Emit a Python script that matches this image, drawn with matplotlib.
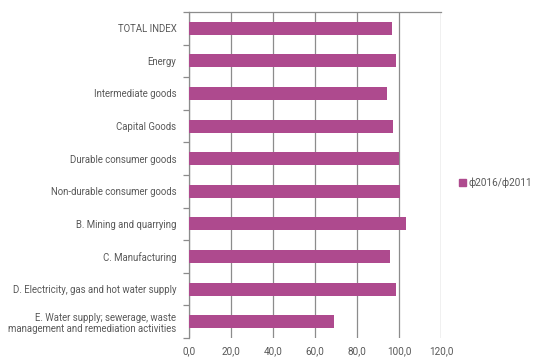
import matplotlib.pyplot as plt
from matplotlib.patches import Patch

categories = [
    'TOTAL INDEX',
    'Energy',
    'Intermediate goods',
    'Capital Goods',
    'Durable consumer goods',
    'Non-durable consumer goods',
    'B. Mining and quarrying',
    'C. Manufacturing',
    'D. Electricity, gas and hot water supply',
    'E. Water supply; sewerage, waste\nmanagement and remediation activities',
]
values = [96.8, 98.4, 94.1, 97.2, 100.0, 100.3, 103.3, 95.7, 98.4, 69.0]
series_name = 'ф2016/ф2011'
xticks = [0, 20, 40, 60, 80, 100, 120]

bar_color = '#AE4A8E'
text_color = '#595959'
line_color = '#8c8c8c'

plt.rcParams['font.family'] = ['Roboto', 'DejaVu Sans']

fig = plt.figure(figsize=(5.36, 3.58), dpi=100)
ax = fig.add_axes([0.3526, 0.0559, 0.4702, 0.9106])

pos = list(range(len(categories)))
ax.barh(pos, values, height=0.4, color=bar_color, zorder=3)
ax.set_ylim(len(categories) - 0.5, -0.5)
ax.set_xlim(0, 120)

ax.set_xticks(xticks)
ax.set_xticklabels(['{:.1f}'.format(v).replace('.', ',') for v in xticks])
ax.tick_params(axis='x', length=0, colors=text_color, labelsize=7.2, pad=6)
ax.grid(axis='x', color=line_color, linewidth=0.9, zorder=0)

ax.set_yticks(pos)
ax.set_yticklabels(categories)
ax.tick_params(axis='y', length=0, colors=text_color, labelsize=6.9, pad=9)
ax.set_yticks([p + 0.5 for p in range(-1, len(categories))], minor=True)
ax.tick_params(axis='y', which='minor', length=4, color=line_color, width=0.9)

for s in ['right', 'bottom']:
    ax.spines[s].set_visible(False)
for s in ['left', 'top']:
    ax.spines[s].set_color(line_color)
    ax.spines[s].set_linewidth(0.9)

ax.legend(handles=[Patch(color=bar_color, label=series_name)],
          loc='center left', bbox_to_anchor=(1.035, 0.475), frameon=False,
          handlelength=0.7, handleheight=0.7, handletextpad=0.3,
          fontsize=7.2, labelcolor=text_color)

fig.savefig('out.png', dpi=100)
